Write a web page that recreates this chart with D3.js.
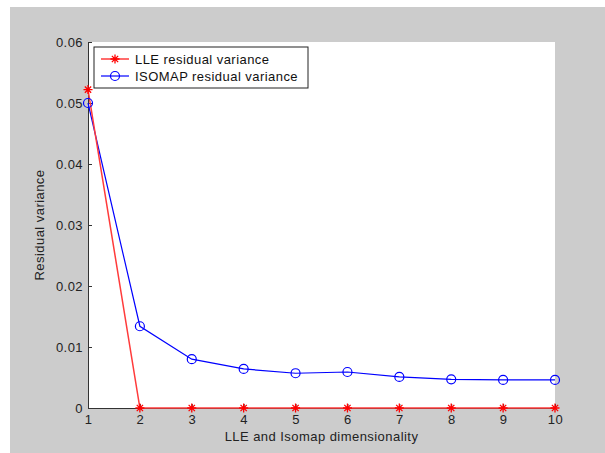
<!DOCTYPE html>
<html>
<head>
<meta charset="utf-8">
<script src="https://d3js.org/d3.v7.min.js"></script>
<style>
  body { margin: 0; background: #fff; }
  text { font-family: "Liberation Sans", Arial, sans-serif; letter-spacing: 0.45px; }
</style>
</head>
<body>
<div id="chart"></div>
<script>
const dims = [1, 2, 3, 4, 5, 6, 7, 8, 9, 10];
const lleVar = [0.0522, 0, 0, 0, 0, 0, 0, 0, 0, 0];
const isoVar = [0.0500, 0.0134, 0.0080, 0.0064, 0.0057, 0.0059, 0.0051, 0.0047, 0.0046, 0.0046];
const yTicks = [0, 0.01, 0.02, 0.03, 0.04, 0.05, 0.06];
const seriesNames = ['LLE residual variance', 'ISOMAP residual variance'];

const width = 605, height = 453;
const margin = { top: 42, right: 50, bottom: 45, left: 88 };

const svg = d3.select('#chart').append('svg')
  .attr('width', width)
  .attr('height', height);

// figure background
svg.append('rect')
  .attr('x', 10).attr('y', 7)
  .attr('width', width - 10).attr('height', height - 7)
  .attr('fill', '#cccccc');

const x = d3.scaleLinear().domain([1, 10]).range([margin.left, width - margin.right]);
const y = d3.scaleLinear().domain([0, 0.06]).range([height - margin.bottom, margin.top]);

svg.append('rect')
  .attr('x', x(1)).attr('y', y(0.06))
  .attr('width', x(10) - x(1)).attr('height', y(0) - y(0.06))
  .attr('fill', '#fff');

// axes, ticks inward
const xAxis = svg.append('g')
  .attr('transform', `translate(0, ${y(0)})`)
  .call(d3.axisBottom(x).tickValues(dims).tickFormat(d3.format('d')).tickSizeInner(-4).tickSizeOuter(0).tickPadding(7));
const yAxis = svg.append('g')
  .attr('transform', `translate(${x(1)}, 0)`)
  .call(d3.axisLeft(y).tickValues(yTicks).tickFormat(d => d === 0 ? '0' : d3.format('.2f')(d)).tickSizeInner(-4).tickSizeOuter(0).tickPadding(5));

[xAxis, yAxis].forEach(a => {
  a.select('.domain').attr('stroke', '#333');
  a.selectAll('.tick line').attr('stroke', '#333');
  a.selectAll('text').attr('font-size', '13px').attr('fill', '#222')
    .attr('font-family', '"Liberation Sans", Arial, sans-serif');
});

svg.append('text')
  .attr('x', (x(1) + x(10)) / 2).attr('y', 441)
  .attr('text-anchor', 'middle').attr('font-size', '13px').attr('fill', '#222')
  .text('LLE and Isomap dimensionality');

svg.append('text')
  .attr('transform', `translate(44, ${(y(0) + y(0.06)) / 2}) rotate(-90)`)
  .attr('text-anchor', 'middle').attr('font-size', '13px').attr('fill', '#222')
  .text('Residual variance');

const line = d3.line().x((d, i) => x(dims[i])).y(d => y(d));

svg.append('path').datum(isoVar)
  .attr('d', line).attr('fill', 'none').attr('stroke', '#0000ff').attr('stroke-width', 1.2);
svg.append('path').datum(lleVar)
  .attr('d', line).attr('fill', 'none').attr('stroke', '#ff3b3b').attr('stroke-width', 1.5);

const starPath = (cx, cy, r) => {
  const s = r * 0.7;
  return `M${cx - r},${cy}L${cx + r},${cy}M${cx},${cy - r}L${cx},${cy + r}` +
    `M${cx - s},${cy - s}L${cx + s},${cy + s}M${cx - s},${cy + s}L${cx + s},${cy - s}`;
};

svg.append('g').selectAll('circle')
  .data(isoVar).enter().append('circle')
  .attr('cx', (d, i) => x(dims[i])).attr('cy', d => y(d))
  .attr('r', 4.5).attr('fill', 'none').attr('stroke', '#0000ff').attr('stroke-width', 1.2);

svg.append('g').selectAll('path')
  .data(lleVar).enter().append('path')
  .attr('d', (d, i) => starPath(x(dims[i]), y(d), 4.5))
  .attr('stroke', '#ff0000').attr('stroke-width', 1.3);

// Legend
const legend = svg.append('g').attr('transform', 'translate(94, 47)');
legend.append('rect')
  .attr('width', 214).attr('height', 41)
  .attr('fill', '#fff').attr('stroke', '#222').attr('stroke-width', 1);

const rows = legend.selectAll('.legend-item')
  .data(seriesNames).enter().append('g')
  .attr('class', 'legend-item')
  .attr('transform', (d, i) => `translate(0, ${12 + i * 17})`);

rows.append('line')
  .attr('x1', 7).attr('x2', 35).attr('y1', 0).attr('y2', 0)
  .attr('stroke', (d, i) => i === 0 ? '#ff3b3b' : '#0000ff')
  .attr('stroke-width', (d, i) => i === 0 ? 1.5 : 1.2);

rows.filter((d, i) => i === 0).append('path')
  .attr('d', starPath(21, 0, 4.5)).attr('stroke', '#ff0000').attr('stroke-width', 1.3);
rows.filter((d, i) => i === 1).append('circle')
  .attr('cx', 21).attr('cy', 0).attr('r', 4.5)
  .attr('fill', 'none').attr('stroke', '#0000ff').attr('stroke-width', 1.2);

rows.append('text')
  .attr('x', 41).attr('y', 5)
  .attr('font-size', '13px').attr('fill', '#111')
  .text(d => d);
</script>
</body>
</html>
